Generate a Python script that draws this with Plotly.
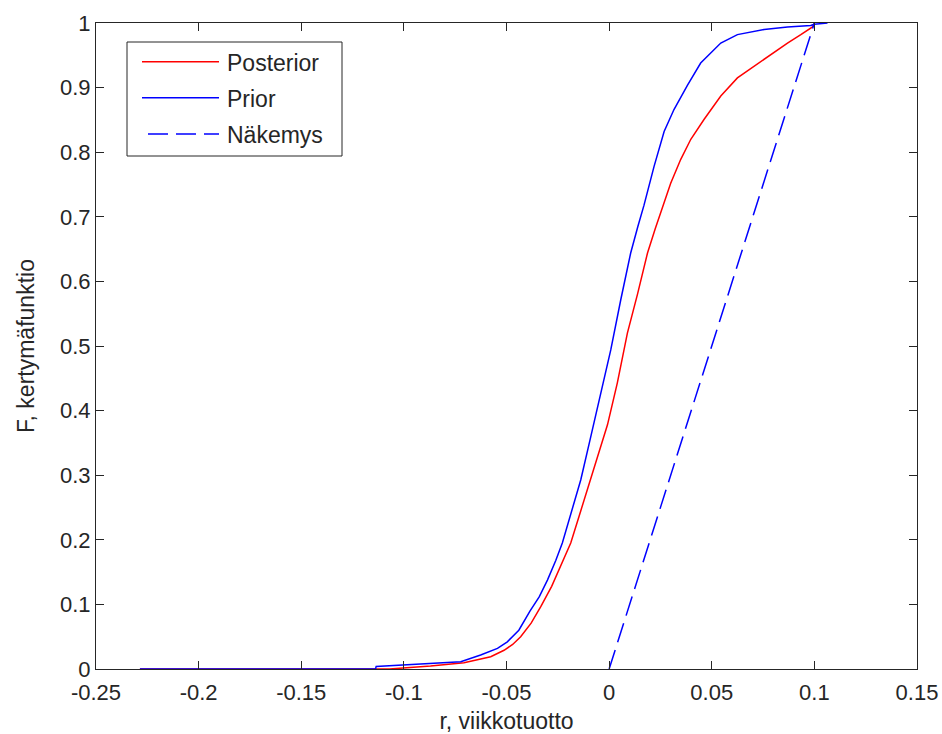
import plotly.graph_objects as go

# ---- data ----
prior_r = [-0.2286, -0.1138, -0.1135, -0.0918, -0.0723, -0.0626, -0.0544, -0.0496, -0.0440,
           -0.0385, -0.0340, -0.0300, -0.0260, -0.0228, -0.0185, -0.0138, -0.0095, -0.0049,
           0.0008, 0.0057, 0.0105, 0.0140, 0.0170, 0.0219, 0.0268, 0.0316, 0.0382,
           0.0446, 0.0544, 0.0625, 0.0755, 0.0869, 0.0982, 0.1000, 0.1064]
prior_F = [0.0, 0.0, 0.004, 0.0077, 0.0113, 0.0217, 0.032, 0.042, 0.060,
           0.090, 0.112, 0.138, 0.168, 0.195, 0.240, 0.293, 0.352, 0.417,
           0.494, 0.572, 0.644, 0.685, 0.718, 0.778, 0.832, 0.866, 0.904,
           0.938, 0.969, 0.982, 0.990, 0.994, 0.996, 0.998, 1.0]

post_r = [-0.2286, -0.107, -0.087, -0.0707, -0.0577, -0.0512, -0.0470, -0.0431, -0.0380,
          -0.0333, -0.0280, -0.0236, -0.0187, -0.0138, -0.0090, -0.0045, -0.0008, 0.0040,
          0.0089, 0.0138, 0.0187, 0.0225, 0.0260, 0.0300, 0.0349, 0.0398, 0.0463,
          0.0544, 0.0625, 0.0706, 0.0788, 0.0869, 0.0934, 0.0991, 0.1000]
post_F = [0.0, 0.0, 0.0046, 0.0098, 0.019, 0.029, 0.038, 0.050, 0.071,
          0.0965, 0.128, 0.160, 0.195, 0.245, 0.295, 0.340, 0.378, 0.443,
          0.520, 0.580, 0.644, 0.682, 0.716, 0.752, 0.789, 0.820, 0.851,
          0.887, 0.915, 0.933, 0.951, 0.969, 0.982, 0.994, 1.0]

view_r = [0.0, 0.1]
view_F = [0.0, 1.0]

series_names = ["Posterior", "Prior", "Näkemys"]

x_ticks = [-0.25, -0.2, -0.15, -0.1, -0.05, 0, 0.05, 0.1, 0.15]
x_ticktext = ["-0.25", "-0.2", "-0.15", "-0.1", "-0.05", "0", "0.05", "0.1", "0.15"]
y_ticks = [0, 0.1, 0.2, 0.3, 0.4, 0.5, 0.6, 0.7, 0.8, 0.9, 1]
y_ticktext = ["0", "0.1", "0.2", "0.3", "0.4", "0.5", "0.6", "0.7", "0.8", "0.9", "1"]

RED = "#FF0000"
BLUE = "#0000FF"
AX = "#262626"
FONT = "Liberation Sans, Arial, sans-serif"

fig = go.Figure()
fig.add_trace(go.Scatter(x=post_r, y=post_F, mode="lines", name=series_names[0],
                         line=dict(color=RED, width=1.5), showlegend=False))
fig.add_trace(go.Scatter(x=prior_r, y=prior_F, mode="lines", name=series_names[1],
                         line=dict(color=BLUE, width=1.5), showlegend=False))
fig.add_trace(go.Scatter(x=view_r, y=view_F, mode="lines", name=series_names[2],
                         line=dict(color=BLUE, width=1.5, dash="20px,8px"), showlegend=False))

axis_common = dict(showline=True, linecolor=AX, linewidth=1, mirror="ticks",
                   ticks="inside", ticklen=8, tickcolor=AX, tickwidth=1,
                   showgrid=False, zeroline=False, automargin=False,
                   tickfont=dict(family=FONT, size=22, color=AX))

fig.update_xaxes(range=[-0.25, 0.15], tickvals=x_ticks, ticktext=x_ticktext,
                 ticklabelstandoff=4,
                 title=dict(text="r, viikkotuotto", font=dict(family=FONT, size=23, color=AX),
                            standoff=11),
                 **axis_common)
fig.update_yaxes(range=[0, 1], tickvals=y_ticks, ticktext=y_ticktext,
                 title=dict(text="F, kertymäfunktio", font=dict(family=FONT, size=23, color=AX),
                            standoff=18),
                 **axis_common)

# ---- legend drawn as a MATLAB-style box ----
def px2x(px):
    return (px - 96) / 821.0

def px2y(py):
    return (669 - py) / 646.0

shapes = [dict(type="rect", xref="paper", yref="paper",
               x0=px2x(127), x1=px2x(342), y0=px2y(156), y1=px2y(42),
               line=dict(color=AX, width=1), fillcolor="white", layer="above")]
rows = [61.7, 97.7, 134.0]
styles = [dict(color=RED, width=1.5), dict(color=BLUE, width=1.5),
          dict(color=BLUE, width=1.5, dash="20px,8px")]
annotations = []
for name, row, st in zip(series_names, rows, styles):
    x0 = 142 if st.get("dash") is None else 148
    shapes.append(dict(type="line", xref="paper", yref="paper",
                       x0=px2x(x0), x1=px2x(219), y0=px2y(row), y1=px2y(row),
                       line=st, layer="above"))
    annotations.append(dict(text=name, xref="paper", yref="paper",
                            x=px2x(225), y=px2y(row + 1), xanchor="left", yanchor="middle",
                            showarrow=False, font=dict(family=FONT, size=23, color=AX)))

fig.update_layout(width=942, height=734,
                  margin=dict(l=96, r=25, t=23, b=65),
                  paper_bgcolor="white", plot_bgcolor="white",
                  shapes=shapes, annotations=annotations,
                  font=dict(family=FONT, size=23, color=AX))

fig.write_html("out.html")
